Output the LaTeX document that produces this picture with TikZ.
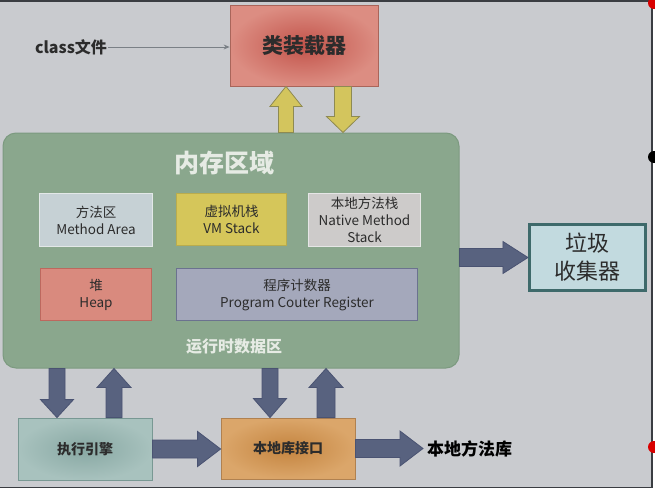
\documentclass[tikz,border=0pt]{standalone}
\usepackage{fontspec}
\setmainfont{Noto Sans CJK SC}
\usetikzlibrary{calc,arrows.meta}
\definecolor{bg}{HTML}{C9CBCF}
\definecolor{frame}{HTML}{3A3D42}
\definecolor{ldin}{HTML}{C2534A}
\definecolor{ldout}{HTML}{DC8D82}
\definecolor{ldborder}{HTML}{A9655A}
\definecolor{memfill}{HTML}{8AA78D}
\definecolor{memborder}{HTML}{7C9A80}
\definecolor{memtext}{HTML}{E6EBE4}
\definecolor{txt}{HTML}{2C2C2C}
\definecolor{mafill}{HTML}{C6D1D5}
\definecolor{maborder}{HTML}{E3E8E8}
\definecolor{vmfill}{HTML}{D5C65A}
\definecolor{vmborder}{HTML}{B9AC4D}
\definecolor{nsfill}{HTML}{CDCBCA}
\definecolor{nsborder}{HTML}{E6E6E6}
\definecolor{hpfill}{HTML}{D98A7E}
\definecolor{hpborder}{HTML}{BD685E}
\definecolor{pcfill}{HTML}{A4A8BB}
\definecolor{pcborder}{HTML}{6B728F}
\definecolor{gcfill}{HTML}{C2DADF}
\definecolor{gcborder}{HTML}{3E6A6B}
\definecolor{exin}{HTML}{88A8A3}
\definecolor{exout}{HTML}{A8C2BE}
\definecolor{exborder}{HTML}{789893}
\definecolor{nlin}{HTML}{C4843F}
\definecolor{nlout}{HTML}{DBA66A}
\definecolor{nlborder}{HTML}{B08150}
\definecolor{yafill}{HTML}{D3C55D}
\definecolor{yaborder}{HTML}{8E8A52}
\definecolor{badark}{HTML}{58627F}
\definecolor{balight}{HTML}{7C84A2}
\definecolor{baborder}{HTML}{4A5372}
\definecolor{thinline}{HTML}{7A8086}
% fat block arrow: style, from, to, half shaft width, half head width, head length
\newcommand\fatarrow[6]{%
  \path[#1] let \p1=(#2), \p2=(#3),
     \n1={veclen(\x2-\x1,\y2-\y1)}, \n2={atan2(\y2-\y1,\x2-\x1)} in
     [shift={(\p1)}, rotate=\n2]
     (0,-#4) -- (\n1-#6,-#4) -- (\n1-#6,-#5) -- (\n1,0) -- (\n1-#6,#5)
     -- (\n1-#6,#4) -- (0,#4) -- cycle;
}
\begin{document}
\begin{tikzpicture}[x=1pt,y=-1pt,
  inbox/.style={draw, line width=1.3pt, inner sep=0pt, align=center, text=txt,
    font=\fontsize{13.5}{17}\selectfont},
  yarrow/.style={fill=yafill, draw=yaborder, line width=0.8pt, line join=miter},
  barrowv/.style={left color=badark, middle color=balight, right color=badark,
    draw=baborder, line width=0.8pt, line join=miter},
  barrowh/.style={top color=badark, middle color=balight, bottom color=badark,
    draw=baborder, line width=0.8pt, line join=miter},
  thinarrow/.style={draw=thinline, line width=0.8pt, -{Stealth[length=6pt,width=5pt]}}]
\useasboundingbox (0,0) rectangle (655,490);
\fill[white] (0,0) rectangle (655,490);
\fill[bg] (0,0) rectangle (652,487);
\draw[frame, line width=1.8pt] (0,0.9) -- (652,0.9) -- (652,487.5) -- (0,487.5);
\fill[red!85!black] (654,3) circle (6);
\fill[black] (654,157) circle (6);
\fill[red!85!black] (654,447) circle (6);

% class loader
\node[draw=ldborder, line width=0.8pt, inner color=ldin, outer color=ldout,
  minimum width=148pt, minimum height=81pt, text=txt,
  font=\bfseries\fontsize{21}{21}\selectfont] (loader) at (304,45.5) {类装载器};
\node[inner sep=1pt, text=txt, font=\bfseries\fontsize{16}{16}\selectfont]
  (classfile) at (71,47) {class文件};
\draw[thinarrow] (classfile.east) -- (classfile.east -| loader.west);

% memory area
\node[draw=memborder, line width=1pt, fill=memfill, rounded corners=13pt,
  minimum width=456pt, minimum height=235pt] (mem) at (231,250.5) {};
\node[text=memtext, font=\bfseries\fontsize{25}{25}\selectfont] (memtitle) at (224,163) {内存区域};
\node[text=memtext, font=\bfseries\fontsize{16}{16}\selectfont] (rtarea) at (234,347) {运行时数据区};

\node[inbox, draw=maborder, fill=mafill, minimum width=113pt, minimum height=53pt]
  (ma) at (96,220) {方法区\\Method Area};
\node[inbox, draw=vmborder, fill=vmfill, minimum width=110pt, minimum height=52pt]
  (vm) at (231.5,219.5) {虚拟机栈\\VM Stack};
\node[inbox, draw=nsborder, fill=nsfill, minimum width=112pt, minimum height=53pt]
  (ns) at (364.5,220) {本地方法栈\\Native Method\\Stack};
\node[inbox, draw=hpborder, fill=hpfill, minimum width=111pt, minimum height=52pt]
  (hp) at (96,294.5) {堆\\Heap};
\node[inbox, draw=pcborder, fill=pcfill, minimum width=241pt, minimum height=52pt]
  (pc) at (297,294.5) {程序计数器\\Program Couter Register};

% garbage collector
\node[draw=gcborder, line width=2.6pt, fill=gcfill, minimum width=116.5pt,
  minimum height=66.5pt, align=center, text=txt,
  font=\fontsize{22}{28}\selectfont] (gc) at (587.5,257.5) {垃圾\\收集器};

% bottom row
\node[draw=exborder, line width=0.8pt, inner color=exin, outer color=exout,
  minimum width=134pt, minimum height=62pt, text=txt,
  font=\bfseries\fontsize{14}{14}\selectfont] (exec) at (85,449) {执行引擎};
\node[draw=nlborder, line width=0.8pt, inner color=nlin, outer color=nlout,
  minimum width=134pt, minimum height=61pt, text=txt,
  font=\bfseries\fontsize{14}{14}\selectfont] (nlib) at (288,448.5) {本地库接口};
\node[anchor=west, inner sep=4pt, text=black,
  font=\bfseries\fontsize{17}{17}\selectfont] (lib) at (423,449) {本地方法库};

% arrows
\fatarrow{yarrow}{mem.north -| 286,0}{loader.south -| 286,0}{7.5}{16}{20}
\fatarrow{yarrow}{loader.south -| 343,0}{mem.north -| 343,0}{8.5}{16.5}{16}
\fatarrow{barrowv}{mem.south -| 57,0}{exec.north -| 57,0}{8}{16.5}{18}
\fatarrow{barrowv}{exec.north -| 114,0}{mem.south -| 114,0}{8}{17}{19}
\fatarrow{barrowv}{mem.south -| 270,0}{nlib.north -| 270,0}{8}{16.5}{19}
\fatarrow{barrowv}{nlib.north -| 326,0}{mem.south -| 326,0}{9}{17}{19}
\fatarrow{barrowh}{exec.east}{exec.east -| nlib.west}{9}{17.5}{23}
\fatarrow{barrowh}{nlib.east}{nlib.east -| lib.west}{9}{17.5}{23}
\fatarrow{barrowh}{mem.east |- gc.west}{gc.west}{9}{16}{25}
\end{tikzpicture}
\end{document}
